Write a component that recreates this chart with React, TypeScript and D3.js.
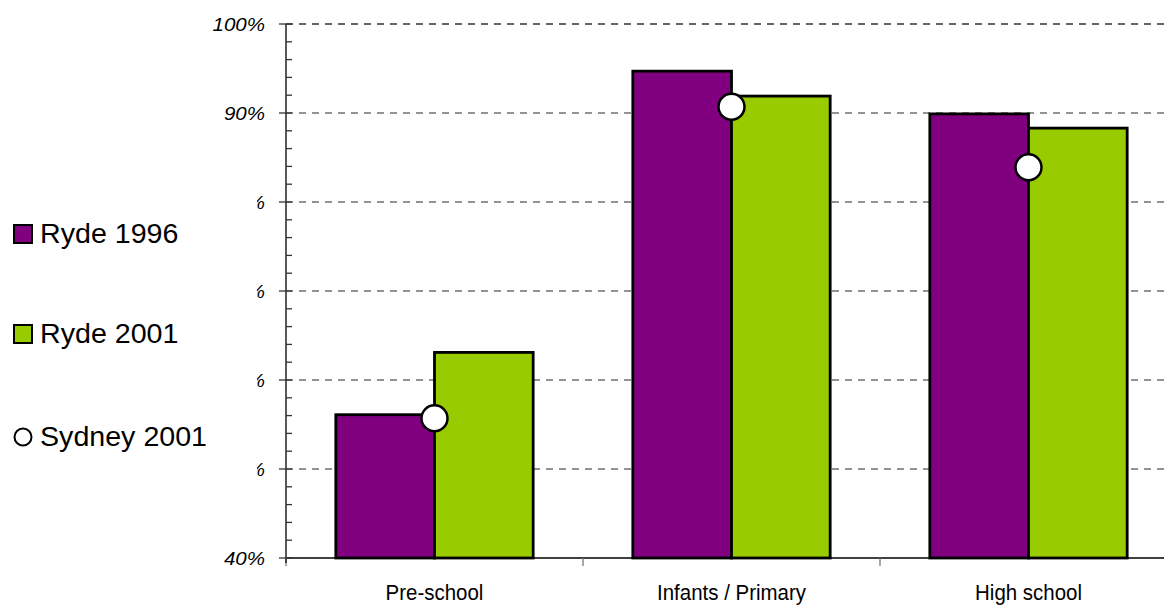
import React from "react";
import * as d3 from "d3";

const categories = ["Pre-school", "Infants / Primary", "High school"];
const ryde1996 = [56.1, 94.7, 89.9];
const ryde2001 = [63.1, 91.9, 88.3];
const sydney2001 = [55.7, 90.7, 83.9];
const yTicks = [40, 50, 60, 70, 80, 90, 100];
const seriesNames = ["Ryde 1996", "Ryde 2001", "Sydney 2001"];
const colors = ["#800080", "#99CC00", "#FFFFFF"];

export default function App() {
  const W = 1164, H = 605;
  const x0 = 286, x1 = 1177, yTop = 24, yBot = 558;
  const x = d3.scaleBand<string>().domain(categories).range([x0, x1]).paddingInner(0).paddingOuter(0);
  const y = d3.scaleLinear().domain([40, 100]).range([yBot, yTop]);
  const bw = x.bandwidth();
  const sub = d3.scaleBand<string>().domain(["a", "b"]).range([0, bw]).paddingOuter(0.505).paddingInner(0);
  const minor = d3.range(40, 100.01, 2).filter((v) => v % 10 !== 0);
  const legendY = [234, 334, 437];
  const bars = [ryde1996, ryde2001];
  return (
    <svg width={W} height={H} style={{ position: "absolute", left: 0, top: 0, background: "#fff" }}>
      <defs>
        <clipPath id="lblclip">
          <rect x={257} y={0} width={20} height={H} />
        </clipPath>
      </defs>
      {/* gridlines */}
      {yTicks.filter((t) => t > 40).map((t) => (
        <line key={"g" + t} x1={x0} x2={W} y1={y(t)} y2={y(t)}
          stroke={t === 100 ? "#333" : "#707070"} strokeWidth={1.3} strokeDasharray="7,6" />
      ))}
      {/* bars */}
      {categories.map((c, i) => (
        <g key={c}>
          {bars.map((vals, s) => {
            const bx = (x(c) as number) + (sub(s === 0 ? "a" : "b") as number);
            return (
              <rect key={s} x={bx} y={y(vals[i])} width={sub.bandwidth()} height={yBot - y(vals[i])}
                fill={colors[s]} stroke="#000" strokeWidth={2.8} />
            );
          })}
        </g>
      ))}
      {/* x axis */}
      <line x1={x0} x2={W} y1={yBot} y2={yBot} stroke="#000" strokeWidth={1.5} />
      {categories.map((c) => (
        <line key={"xt" + c} x1={x(c) as number} x2={x(c) as number} y1={yBot} y2={yBot + 8} stroke="#777" strokeWidth={1.3} />
      ))}
      {/* y axis */}
      <line x1={x0} x2={x0} y1={yTop} y2={yBot + 5} stroke="#222" strokeWidth={1.5} />
      {yTicks.map((t) => (
        <line key={"yt" + t} x1={x0 - 7} x2={x0 + 6} y1={y(t)} y2={y(t)} stroke="#333" strokeWidth={1.3} />
      ))}
      {minor.map((t) => (
        <line key={"ym" + t} x1={x0} x2={x0 + 6} y1={y(t)} y2={y(t)} stroke="#333" strokeWidth={1.3} />
      ))}
      {yTicks.map((t) => {
        const full = t === 40 || t === 90 || t === 100;
        return (
          <g key={"yl" + t} clipPath={full ? undefined : "url(#lblclip)"}>
            <text transform={`translate(265,${y(t)}) scale(1.08,1)`} dy="0.35em" textAnchor="end"
              fontFamily="Liberation Sans, Arial, sans-serif" fontStyle="italic" fontSize={19} fill="#000">
              {t + "%"}
            </text>
          </g>
        );
      })}
      {/* x labels */}
      {categories.map((c) => (
        <text key={"xl" + c} transform={`translate(${(x(c) as number) + bw / 2},600) scale(0.93,1)`} textAnchor="middle"
          fontFamily="Liberation Sans, Arial, sans-serif" fontSize={22} fill="#000">
          {c}
        </text>
      ))}
      {/* sydney markers */}
      {categories.map((c, i) => (
        <circle key={"m" + c} cx={(x(c) as number) + bw / 2} cy={y(sydney2001[i])} r={13}
          fill="#fff" stroke="#000" strokeWidth={2.5} />
      ))}
      {/* legend */}
      {seriesNames.map((n, i) => (
        <g key={n}>
          {i < 2 ? (
            <rect x={14} y={legendY[i] - 9} width={18} height={18} fill={colors[i]} stroke="#000" strokeWidth={2} />
          ) : (
            <circle cx={23} cy={legendY[i]} r={8.5} fill="#fff" stroke="#000" strokeWidth={2} />
          )}
          <text transform={`translate(40,${legendY[i]}) scale(1.06,1)`} dy="0.35em"
            fontFamily="Liberation Sans, Arial, sans-serif" fontSize={27} fill="#000">
            {n}
          </text>
        </g>
      ))}
    </svg>
  );
}
